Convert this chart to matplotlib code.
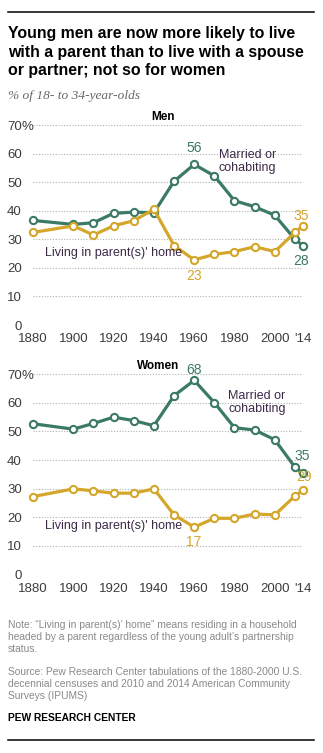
import matplotlib
matplotlib.use("Agg")
import matplotlib.pyplot as plt

W, H = 323, 753
years = [1880, 1900, 1910, 1920, 1930, 1940, 1950, 1960, 1970, 1980, 1990, 2000, 2010, 2014]
men_married = [36.6, 35.2, 35.8, 39.1, 39.5, 39.3, 50.3, 56.2, 52.2, 43.5, 41.4, 38.4, 30.0, 27.8]
men_parents = [32.4, 34.7, 31.5, 34.7, 36.5, 40.5, 27.8, 22.8, 24.7, 25.7, 27.4, 25.7, 32.4, 34.7]
women_married = [52.7, 50.8, 52.8, 55.0, 53.8, 52.0, 62.5, 67.9, 60.1, 51.3, 50.5, 47.1, 37.5, 35.4]
women_parents = [27.2, 29.9, 29.2, 28.4, 28.4, 29.9, 20.8, 16.5, 19.6, 19.6, 21.1, 20.8, 27.4, 29.5]
xticks = [1880, 1900, 1920, 1940, 1960, 1980, 2000, 2014]
xticklabels = ["1880", "1900", "1920", "1940", "1960", "1980", "2000", "'14"]
yticks = [0, 10, 20, 30, 40, 50, 60, 70]

GREEN = "#3b7a64"
GOLD = "#d4a62a"
TXT = "#3a2a48"
TICK = "#3c3c3c"
FONT = "Liberation Sans"

plt.rcParams["font.family"] = FONT
fig = plt.figure(figsize=(W / 100, H / 100), dpi=100)

def px(x, y):
    return x / W, 1 - y / H

def panel(top_px, bottom_px, married, parents, title, title_xy, annots, mlab_xy, plab_xy):
    left, right = 33, 303
    ax = fig.add_axes([left / W, 1 - bottom_px / H, (right - left) / W, (bottom_px - top_px) / H])
    ax.set_xlim(1880, 2014)
    ax.set_ylim(0, 70)
    for s in ax.spines.values():
        s.set_visible(False)
    ax.set_yticks(yticks)
    ax.set_yticklabels([str(v) for v in yticks], fontsize=9.5, color=TICK)
    ax.set_xticks(xticks)
    ax.set_xticklabels(xticklabels, fontsize=9.5, color=TICK)
    ax.tick_params(axis="y", length=0, pad=8)
    ax.tick_params(axis="x", length=0, pad=6)
    for v in yticks:
        ax.axhline(v, color="#b0b0b0", lw=0.8, ls=(0, (1, 1.5)), zorder=0)
    for vals, c in [(married, GREEN), (parents, GOLD)]:
        ax.plot(years, vals, color=c, lw=2.3, marker="o", markersize=5.2,
                markerfacecolor="white", markeredgecolor=c, markeredgewidth=1.5,
                clip_on=False, zorder=3)
    fig.text(*px(22, top_px + 1.5), "%", fontsize=9.5, color=TICK, ha="left", va="center")
    fig.text(*px(*title_xy), title, fontsize=8.5, fontweight="bold", color="black",
             ha="center", va="center")
    for (x, y, s, c) in annots:
        fig.text(*px(x, y), s, fontsize=10, color=c, ha="center", va="center")
    fig.text(*px(*mlab_xy), "Married or\ncohabiting", fontsize=9, color=TXT,
             ha="left", va="top", linespacing=1.15)
    fig.text(*px(*plab_xy), "Living in parent(s)' home", fontsize=9, color=TXT,
             ha="left", va="center")
    return ax

panel(125, 325, men_married, men_parents, "Men", (163, 117),
      [(194, 148, "56", GREEN), (301, 261, "28", GREEN), (301, 216, "35", GOLD),
       (194, 276, "23", GOLD)],
      (219, 149), (45, 253))
panel(374.3, 574.3, women_married, women_parents, "Women", (158, 366),
      [(194, 370, "68", GREEN), (302, 456, "35", GREEN), (304, 477, "29", GOLD),
       (194, 542, "17", GOLD)],
      (228, 390), (45, 526))

# rules
fig.add_artist(plt.Line2D([8 / W, 314 / W], [1 - 11.5 / H, 1 - 11.5 / H], color="black", lw=1.1))
fig.add_artist(plt.Line2D([8 / W, 314 / W], [1 - 740 / H, 1 - 740 / H], color="black", lw=1.1))

fig.text(*px(8, 52), "Young men are now more likely to live\nwith a parent than to live with a spouse\nor partner; not so for women",
         fontsize=11.4, fontweight="bold", color="black", ha="left", va="center", linespacing=1.33)
fig.text(*px(8, 96), "% of 18- to 34-year-olds", fontsize=9.6, style="italic", color="#666666",
         family="Liberation Serif", ha="left", va="center")

note = ("Note: \u201cLiving in parent(s)\u2019 home\u201d means residing in a household\n"
        "headed by a parent regardless of the young adult\u2019s partnership\nstatus.")
src = ("Source: Pew Research Center tabulations of the 1880-2000 U.S.\n"
       "decennial censuses and 2010 and 2014 American Community\nSurveys (IPUMS)")
fig.text(*px(8, 620), note, fontsize=7.4, color="#8a8a8a", ha="left", va="top", linespacing=1.25)
fig.text(*px(8, 667), src, fontsize=7.4, color="#8a8a8a", ha="left", va="top", linespacing=1.25)
fig.text(*px(8, 718), "PEW RESEARCH CENTER", fontsize=7.4, fontweight="bold", color="black",
         ha="left", va="center")

fig.savefig("out.png", dpi=100)
